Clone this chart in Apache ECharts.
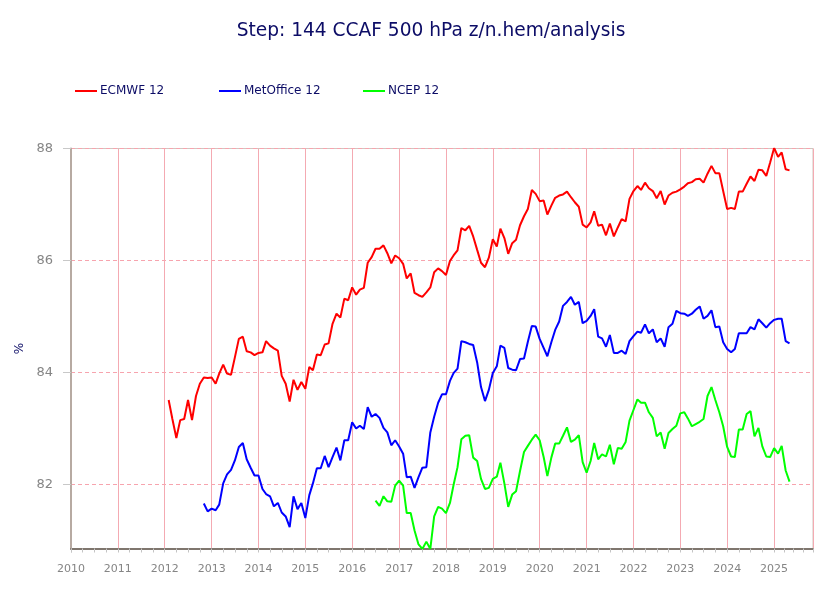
<!DOCTYPE html>
<html>
<head>
<meta charset="utf-8">
<script src="https://cdn.jsdelivr.net/npm/echarts@6/dist/echarts.min.js"></script>
<style>
  html, body { margin: 0; padding: 0; background: #fff; }
  #chart { width: 835px; height: 591px; }
</style>
</head>
<body>
<div id="chart"></div>
<script>
// 图表数据: 每个序列为连续月度值, 起始月份单独给出
const seriesNames = ['ECMWF 12', 'MetOffice 12', 'NCEP 12'];
const seriesColors = ['#ff0000', '#0000ff', '#00ff00'];
const startMonths = ['2012-02', '2012-11', '2016-07'];
const yTicks = [82, 84, 86, 88];

const ecmwf = [
    83.51, 83.17, 82.83, 83.15, 83.17, 83.51, 83.15, 83.58, 83.80, 83.91,
    83.90, 83.91, 83.80, 83.98, 84.14, 83.98, 83.96, 84.27, 84.60, 84.64,
    84.38, 84.36, 84.31, 84.35, 84.36, 84.56, 84.48, 84.43, 84.39, 83.94,
    83.80, 83.48, 83.87, 83.69, 83.83, 83.71, 84.10, 84.04, 84.32, 84.31,
    84.50, 84.52, 84.87, 85.05, 84.98, 85.32, 85.29, 85.52, 85.39, 85.48,
    85.51, 85.96, 86.06, 86.21, 86.21, 86.27, 86.13, 85.95, 86.09, 86.04,
    85.94,
    85.68, 85.77, 85.42, 85.38, 85.35, 85.43, 85.52, 85.79, 85.86, 85.81,
    85.74, 85.99, 86.09, 86.18, 86.58, 86.54, 86.62, 86.43, 86.19, 85.96,
    85.88, 86.05, 86.38, 86.25, 86.57, 86.40, 86.12, 86.31, 86.37, 86.63,
    86.79, 86.92, 87.26, 87.19, 87.06, 87.07, 86.82, 86.98, 87.12, 87.16,
    87.18, 87.23, 87.13, 87.04, 86.96, 86.64, 86.59, 86.68, 86.88, 86.62,
    86.64, 86.45, 86.66, 86.43, 86.59, 86.74, 86.70, 87.10, 87.24, 87.33,
    87.26, 87.39, 87.29, 87.24, 87.11, 87.24, 87.00, 87.16, 87.21, 87.23,
    87.27, 87.32, 87.38, 87.40, 87.45, 87.46, 87.39, 87.55, 87.69, 87.56,
    87.56, 87.24, 86.92, 86.94, 86.92, 87.23, 87.23, 87.37, 87.50, 87.42,
    87.62, 87.61, 87.51, 87.75, 88.01, 87.85, 87.93, 87.63, 87.61
];

const metoffice = [
    81.66, 81.52, 81.57, 81.54, 81.64, 82.02, 82.18, 82.26, 82.43, 82.67,
    82.74, 82.45, 82.30, 82.16, 82.16, 81.92, 81.83, 81.79, 81.61, 81.67,
    81.50, 81.43, 81.24, 81.79, 81.56, 81.67, 81.40, 81.81, 82.02, 82.29,
    82.29, 82.51, 82.31, 82.49, 82.66, 82.43, 82.79, 82.79, 83.11, 83.00,
    83.05, 82.99, 83.38, 83.21, 83.26, 83.19, 83.01, 82.93, 82.70, 82.79,
    82.68, 82.55,
    82.13, 82.14, 81.94, 82.13, 82.30, 82.31, 82.93, 83.21, 83.46, 83.61,
    83.61, 83.85, 83.99, 84.07, 84.56, 84.54, 84.51, 84.49, 84.18, 83.74,
    83.49, 83.69, 83.99, 84.11, 84.48, 84.44, 84.08, 84.05, 84.04, 84.24,
    84.25, 84.55, 84.83, 84.82, 84.60, 84.44, 84.29, 84.54, 84.76, 84.91,
    85.19, 85.26, 85.35, 85.21, 85.26, 84.88, 84.92, 85.01, 85.13, 84.64,
    84.61, 84.46, 84.67, 84.35, 84.35, 84.39, 84.33, 84.56, 84.65, 84.73,
    84.71, 84.86, 84.70, 84.77, 84.54, 84.61, 84.46, 84.81, 84.87, 85.10,
    85.06, 85.05, 85.01, 85.05, 85.12, 85.18, 84.96, 85.01, 85.11, 84.81,
    84.82, 84.54, 84.42, 84.36, 84.42, 84.70, 84.70, 84.70, 84.81, 84.77,
    84.95, 84.88, 84.80, 84.88, 84.94, 84.96, 84.96, 84.56, 84.52
];

const ncep = [
    81.71, 81.62, 81.79, 81.70, 81.69, 81.98, 82.07, 81.98,
    81.49, 81.49, 81.18, 80.93, 80.85, 80.98, 80.85, 81.43, 81.60, 81.57,
    81.49, 81.67, 81.99, 82.31, 82.81, 82.87, 82.88, 82.48, 82.42, 82.10,
    81.92, 81.94, 82.10, 82.14, 82.39, 82.02, 81.60, 81.82, 81.88, 82.24,
    82.58, 82.69, 82.80, 82.89, 82.79, 82.49, 82.15, 82.48, 82.73, 82.73,
    82.87, 83.02, 82.76, 82.80, 82.88, 82.40, 82.21, 82.42, 82.74, 82.45,
    82.54, 82.50, 82.71, 82.36, 82.65, 82.64, 82.76, 83.14, 83.33, 83.52,
    83.46, 83.46, 83.29, 83.19, 82.86, 82.93, 82.64, 82.92, 82.99, 83.05,
    83.27, 83.29, 83.18, 83.04, 83.08, 83.12, 83.17, 83.58, 83.74, 83.51,
    83.29, 83.04, 82.67, 82.50, 82.49, 82.98, 82.98, 83.26, 83.31, 82.86,
    83.01, 82.68, 82.50, 82.49, 82.65, 82.55, 82.69, 82.25, 82.05
];

const seriesValues = [ecmwf, metoffice, ncep];

// 把起始月份 + 月序号转为 [日期, 数值]
function toMonthly(start, values) {
    const [y0, m0] = start.split('-').map(Number);
    return values.map((v, i) => {
        const m = m0 - 1 + i;
        const y = y0 + Math.floor(m / 12);
        const mm = String(m % 12 + 1).padStart(2, '0');
        return [`${y}-${mm}-01`, v];
    });
}

const chartObj = echarts.init(document.getElementById('chart'));
const YEAR = 365.25 * 24 * 3600 * 1000;
const legendLefts = [70, 214, 358];

chartObj.setOption({
    animation: false,
    textStyle: { fontFamily: 'DejaVu Sans' },
    title: {
        text: 'Step: 144 CCAF 500 hPa z/n.hem/analysis',
        left: 426,
        top: 17,
        textAlign: 'center',
        textStyle: { color: '#0c0c66', fontSize: 18.6, fontWeight: 'normal', fontFamily: 'DejaVu Sans' }
    },
    // 三个图例分别定位, 保持固定间距
    legend: seriesNames.map((name, i) => ({
        left: legendLefts[i],
        top: 80,
        itemWidth: 22,
        itemHeight: 2,
        itemGap: 0,
        icon: 'rect',
        data: [name],
        textStyle: { color: '#0c0c66', fontSize: 12, padding: [0, 0, 0, -2] }
    })),
    // 高度 400 像素, 每 2 个单位 112 像素, 让水平网格线落在整像素上
    grid: {
        left: 71,
        right: 22,
        top: 148.5,
        bottom: 42.5,
        show: true,
        borderColor: '#cfc6bf',
        borderWidth: 1
    },
    xAxis: {
        type: 'time',
        min: '2010-01-01',
        max: '2025-10-31',
        minInterval: YEAR,
        maxInterval: YEAR,
        axisLine: { lineStyle: { color: '#7f766e', width: 2 } },
        axisTick: { length: 4, lineStyle: { color: '#c4c4c4' } },
        minorTick: { show: true, splitNumber: 4, length: 4, lineStyle: { color: '#c4c4c4' } },
        axisLabel: {
            color: '#858585',
            fontSize: 11,
            margin: 15,
            formatter: '{yyyy}'
        },
        splitLine: { show: true, lineStyle: { color: '#f4aab2', type: 'solid', width: 1 } }
    },
    yAxis: {
        type: 'value',
        min: 88 - 400 / 56,
        max: 88,
        name: '%',
        nameLocation: 'middle',
        nameGap: 44,
        nameTextStyle: { color: '#0c0c66', fontSize: 12 },
        axisLine: { show: true, lineStyle: { color: '#b7aaa2', width: 2 } },
        axisTick: { show: true, length: 8, customValues: yTicks, lineStyle: { color: '#c8c8c8' } },
        axisLabel: {
            color: '#858585',
            fontSize: 13,
            margin: 18,
            customValues: yTicks
        },
        splitLine: { show: true, lineStyle: { color: '#f7a4ae', type: [4, 3], width: 1 } }
    },
    series: seriesNames.map((name, i) => ({
        name: name,
        type: 'line',
        showSymbol: false,
        data: toMonthly(startMonths[i], seriesValues[i]),
        lineStyle: { color: seriesColors[i], width: 2 },
        itemStyle: { color: seriesColors[i] }
    }))
});
</script>
</body>
</html>
